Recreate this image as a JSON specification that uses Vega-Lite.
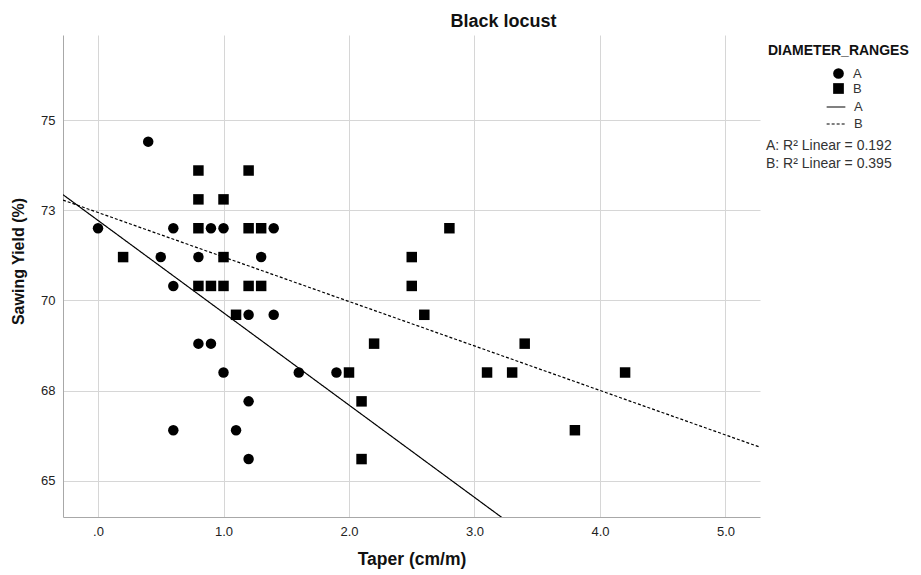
{
  "$schema": "https://vega.github.io/schema/vega-lite/v6.json",
  "width": 697,
  "height": 482,
  "autosize": {"type": "none"},
  "padding": {"left": 63, "top": 35, "right": 161, "bottom": 58},
  "background": "white",
  "title": {"text": "Black locust", "fontSize": 18, "fontWeight": "bold", "font": "Liberation Sans", "color": "#111", "anchor": "middle", "offset": 4, "dx": 92},
  "datasets": {
    "points": [
      {"taper": 0.4, "yield": 74.4, "group": "A"},
      {"taper": 0.0, "yield": 72.0, "group": "A"},
      {"taper": 0.6, "yield": 72.0, "group": "A"},
      {"taper": 0.9, "yield": 72.0, "group": "A"},
      {"taper": 1.0, "yield": 72.0, "group": "A"},
      {"taper": 1.4, "yield": 72.0, "group": "A"},
      {"taper": 0.5, "yield": 71.2, "group": "A"},
      {"taper": 0.8, "yield": 71.2, "group": "A"},
      {"taper": 1.3, "yield": 71.2, "group": "A"},
      {"taper": 0.6, "yield": 70.4, "group": "A"},
      {"taper": 1.2, "yield": 69.6, "group": "A"},
      {"taper": 1.4, "yield": 69.6, "group": "A"},
      {"taper": 0.8, "yield": 68.8, "group": "A"},
      {"taper": 0.9, "yield": 68.8, "group": "A"},
      {"taper": 1.0, "yield": 68.0, "group": "A"},
      {"taper": 1.6, "yield": 68.0, "group": "A"},
      {"taper": 1.9, "yield": 68.0, "group": "A"},
      {"taper": 1.2, "yield": 67.2, "group": "A"},
      {"taper": 0.6, "yield": 66.4, "group": "A"},
      {"taper": 1.1, "yield": 66.4, "group": "A"},
      {"taper": 1.2, "yield": 65.6, "group": "A"},
      {"taper": 0.8, "yield": 73.6, "group": "B"},
      {"taper": 1.2, "yield": 73.6, "group": "B"},
      {"taper": 0.8, "yield": 72.8, "group": "B"},
      {"taper": 1.0, "yield": 72.8, "group": "B"},
      {"taper": 0.8, "yield": 72.0, "group": "B"},
      {"taper": 1.2, "yield": 72.0, "group": "B"},
      {"taper": 1.3, "yield": 72.0, "group": "B"},
      {"taper": 2.8, "yield": 72.0, "group": "B"},
      {"taper": 0.2, "yield": 71.2, "group": "B"},
      {"taper": 1.0, "yield": 71.2, "group": "B"},
      {"taper": 2.5, "yield": 71.2, "group": "B"},
      {"taper": 0.8, "yield": 70.4, "group": "B"},
      {"taper": 0.9, "yield": 70.4, "group": "B"},
      {"taper": 1.0, "yield": 70.4, "group": "B"},
      {"taper": 1.2, "yield": 70.4, "group": "B"},
      {"taper": 1.3, "yield": 70.4, "group": "B"},
      {"taper": 2.5, "yield": 70.4, "group": "B"},
      {"taper": 1.1, "yield": 69.6, "group": "B"},
      {"taper": 2.6, "yield": 69.6, "group": "B"},
      {"taper": 2.2, "yield": 68.8, "group": "B"},
      {"taper": 3.4, "yield": 68.8, "group": "B"},
      {"taper": 2.0, "yield": 68.0, "group": "B"},
      {"taper": 3.1, "yield": 68.0, "group": "B"},
      {"taper": 3.3, "yield": 68.0, "group": "B"},
      {"taper": 4.2, "yield": 68.0, "group": "B"},
      {"taper": 2.1, "yield": 67.2, "group": "B"},
      {"taper": 3.8, "yield": 66.4, "group": "B"},
      {"taper": 2.1, "yield": 65.6, "group": "B"}
    ],
    "lines": [
      {"taper": -0.279, "yield": 72.93, "line": "lineA", "r2": "A: R² Linear = 0.192"},
      {"taper": 3.3, "yield": 63.77, "line": "lineA", "r2": "A: R² Linear = 0.192"},
      {"taper": -0.279, "yield": 72.78, "line": "lineB", "r2": "B: R² Linear = 0.395"},
      {"taper": 5.275, "yield": 65.93, "line": "lineB", "r2": "B: R² Linear = 0.395"}
    ]
  },
  "encoding": {
    "x": {
      "field": "taper", "type": "quantitative",
      "scale": {"domain": [-0.279, 5.275], "nice": false, "zero": false},
      "axis": {
        "title": "Taper (cm/m)",
        "values": [0, 1, 2, 3, 4, 5],
        "labelExpr": "datum.value == 0 ? '.0' : format(datum.value, '.1f')",
        "titleFontSize": 17.5,
        "titlePadding": 12
      }
    },
    "y": {
      "field": "yield", "type": "quantitative",
      "scale": {"domain": [63.994, 77.357], "nice": false, "zero": false},
      "axis": {
        "title": "Sawing Yield (%)",
        "values": [65, 67.5, 70, 72.5, 75],
        "format": ".0f",
        "titleFontSize": 16,
        "titlePadding": 14,
        "titleY": 226
      }
    }
  },
  "layer": [
    {
      "data": {"name": "points"},
      "mark": {"type": "point", "filled": true, "opacity": 1, "size": 110, "color": "black"},
      "encoding": {
        "shape": {
          "field": "group", "type": "nominal",
          "scale": {"domain": ["A", "B"], "range": ["circle", "square"]},
          "legend": {
            "title": "DIAMETER_RANGES",
            "orient": "none", "legendX": 705, "legendY": 9,
            "titleFontSize": 14, "titleFontWeight": "bold", "titleColor": "#111",
            "titlePadding": 9,
            "symbolOffset": 64, "symbolSize": 115, "symbolFillColor": "black", "symbolStrokeColor": "black",
            "labelFontSize": 13, "labelColor": "#333", "labelOffset": 8, "rowPadding": -2
          }
        }
      }
    },
    {
      "data": {"name": "lines"},
      "mark": {"type": "line", "clip": true, "strokeWidth": 1.2},
      "encoding": {
        "strokeDash": {
          "field": "line", "type": "nominal",
          "scale": {"domain": ["lineA", "lineB"], "range": [[1, 0], [3, 2]]},
          "legend": {
            "title": null,
            "orient": "none", "legendX": 763, "legendY": 62,
            "symbolType": "stroke", "symbolSize": 350, "symbolStrokeColor": "black", "symbolStrokeWidth": 1.2,
            "labelExpr": "substring(datum.label, 4)",
            "labelFontSize": 13, "labelColor": "#333", "labelOffset": 8, "rowPadding": -6
          }
        },
        "color": {
          "field": "r2", "type": "nominal",
          "scale": {"range": ["black", "black"]},
          "legend": {
            "title": null,
            "orient": "none", "legendX": 689, "legendY": 104,
            "symbolOpacity": 0, "symbolSize": 0, "symbolStrokeWidth": 0,
            "labelFontSize": 14, "labelColor": "#333", "labelOffset": 0, "rowPadding": 4
          }
        }
      }
    }
  ],
  "config": {
    "font": "Liberation Sans",
    "view": {"stroke": null},
    "axis": {
      "grid": true, "gridColor": "#d6d6d6", "gridWidth": 1,
      "domainColor": "#a8a8a8", "domainWidth": 1,
      "ticks": false,
      "labelFont": "Liberation Sans", "labelFontSize": 13, "labelColor": "#222", "labelPadding": 8,
      "titleFont": "Liberation Sans", "titleFontWeight": "bold", "titleColor": "#111"
    },
    "legend": {"labelFont": "Liberation Sans", "titleFont": "Liberation Sans"}
  }
}
